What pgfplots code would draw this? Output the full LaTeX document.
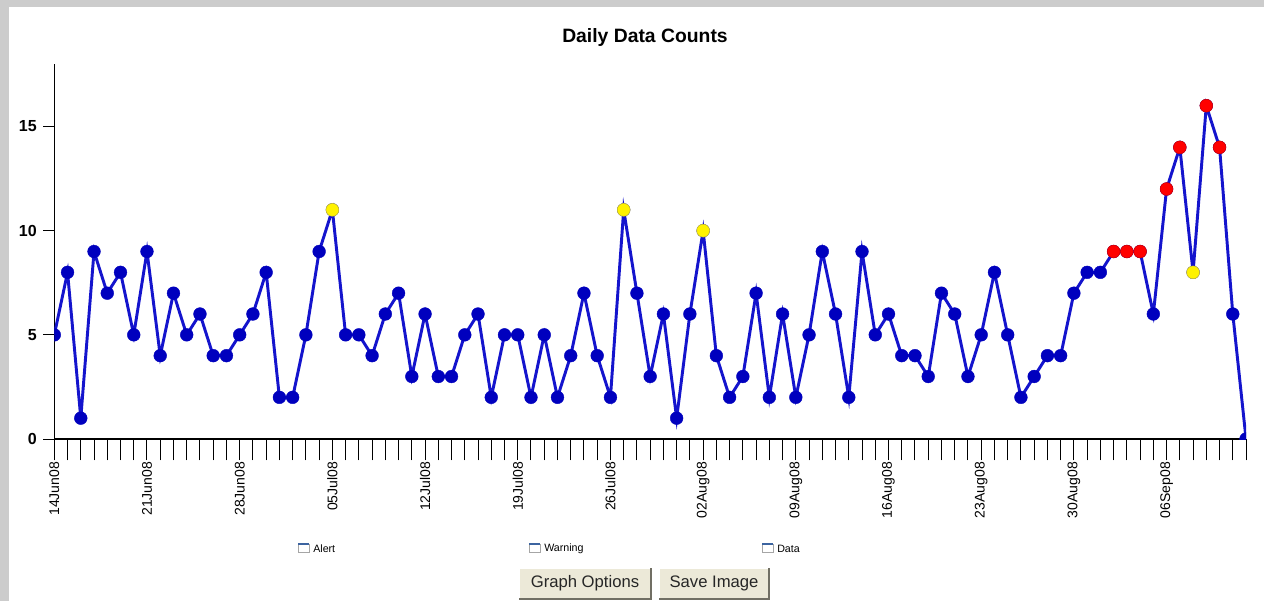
\documentclass[border=0pt]{standalone}
\usepackage{pgfplots}
\pgfplotsset{compat=1.18}
\usepackage{fontspec}
\setmainfont{Liberation Sans}
\definecolor{lineblue}{RGB}{20,20,205}
\definecolor{markblue}{RGB}{0,0,190}
\definecolor{frame}{RGB}{204,204,204}
\definecolor{btn}{RGB}{236,233,216}
\definecolor{btnshadow}{RGB}{113,111,100}
\definecolor{boxblue}{RGB}{60,100,160}
\begin{document}
\begin{tikzpicture}
\begin{scope}[x=0.75pt,y=-0.75pt]
  \fill[frame] (0,0) rectangle (1264,601);
  \fill[white] (9,7) rectangle (1264,601);
  \coordinate (axorigin) at (54.3,439);
  % title
  \node[font=\bfseries\fontsize{14.5}{16}\selectfont] at (645,37) {Daily Data Counts};
  % legend entries
  \foreach \bx/\lab in {298/Alert,529/Warning,762/Data}{
    \fill[white] (\bx,544) rectangle ++(11,8);
    \draw[gray!70,line width=0.5pt] (\bx,544) rectangle ++(11,8);
    \draw[boxblue,line width=0.8pt] (\bx,544) -- ++(11,0);
    \node[anchor=west,font=\fontsize{8}{9}\selectfont,inner sep=0pt] at (\bx+15,549) {\lab};
  }
  % buttons
  \foreach \xa/\xb/\lab in {519/651/Graph Options,659/769/Save Image}{
    \fill[btn] (\xa,568) rectangle (\xb,599);
    \draw[white,line width=0.8pt] (\xa,599) -- (\xa,568) -- (\xb,568);
    \draw[btnshadow,line width=1.2pt] (\xa,599) -- (\xb,599) -- (\xb,568);
    \node[font=\fontsize{12.5}{14}\selectfont,text=black!85] at ({(\xa+\xb)/2},583.5) {\lab};
  }
\end{scope}
\begin{axis}[
  at={(axorigin)}, anchor=south west,
  scale only axis,
  width=893.8pt, height=281.25pt,
  xmin=0, xmax=90, ymin=0, ymax=18,
  axis lines=left,
  axis line style={-, line width=0.9pt, black},
  clip marker paths=true,
  major tick length=16pt,
  tick align=outside,
  xtick={0,...,90},
  xticklabels={14Jun08,,,,,,,21Jun08,,,,,,,28Jun08,,,,,,,05Jul08,,,,,,,12Jul08,,,,,,,19Jul08,,,,,,,26Jul08,,,,,,,02Aug08,,,,,,,09Aug08,,,,,,,16Aug08,,,,,,,23Aug08,,,,,,,30Aug08,,,,,,,06Sep08,,,,,,},
  xticklabel style={rotate=90, anchor=east, font=\fontsize{10.5}{12}\selectfont, inner sep=1pt},
  xtick style={line width=0.75pt, black},
  ytick={0,5,10,15},
  ytick style={/pgfplots/major tick length=8.25pt, line width=0.75pt, black},
  yticklabel style={font=\bfseries\fontsize{12}{14}\selectfont, inner sep=2pt, xshift=5pt},
  /pgf/number format/assume math mode=true,
]
\addplot[lineblue, line width=2.2pt, mark=*, mark size=4.8pt,
  mark options={fill=markblue, draw=markblue, line width=0.3pt}] coordinates {
(0,5)(1,8)(2,1)(3,9)(4,7)(5,8)(6,5)(7,9)(8,4)(9,7)
(10,5)(11,6)(12,4)(13,4)(14,5)(15,6)(16,8)(17,2)(18,2)(19,5)
(20,9)(21,11)(22,5)(23,5)(24,4)(25,6)(26,7)(27,3)(28,6)(29,3)
(30,3)(31,5)(32,6)(33,2)(34,5)(35,5)(36,2)(37,5)(38,2)(39,4)
(40,7)(41,4)(42,2)(43,11)(44,7)(45,3)(46,6)(47,1)(48,6)(49,10)
(50,4)(51,2)(52,3)(53,7)(54,2)(55,6)(56,2)(57,5)(58,9)(59,6)
(60,2)(61,9)(62,5)(63,6)(64,4)(65,4)(66,3)(67,7)(68,6)(69,3)
(70,5)(71,8)(72,5)(73,2)(74,3)(75,4)(76,4)(77,7)(78,8)(79,8)
(80,9)(81,9)(82,9)(83,6)(84,12)(85,14)(86,8)(87,16)(88,14)(89,6)
(90,0)
};
% warning points (yellow)
\addplot[only marks, mark=*, mark size=4.8pt,
  mark options={fill=yellow, draw=yellow!80!black, line width=0.4pt}] coordinates {
(21,11)(43,11)(49,10)(86,8)
};
% alert points (red)
\addplot[only marks, mark=*, mark size=4.8pt,
  mark options={fill=red, draw=red!85!black, line width=0.4pt}] coordinates {
(80,9)(81,9)(82,9)(84,12)(85,14)(87,16)(88,14)
};
\end{axis}
\end{tikzpicture}
\end{document}
